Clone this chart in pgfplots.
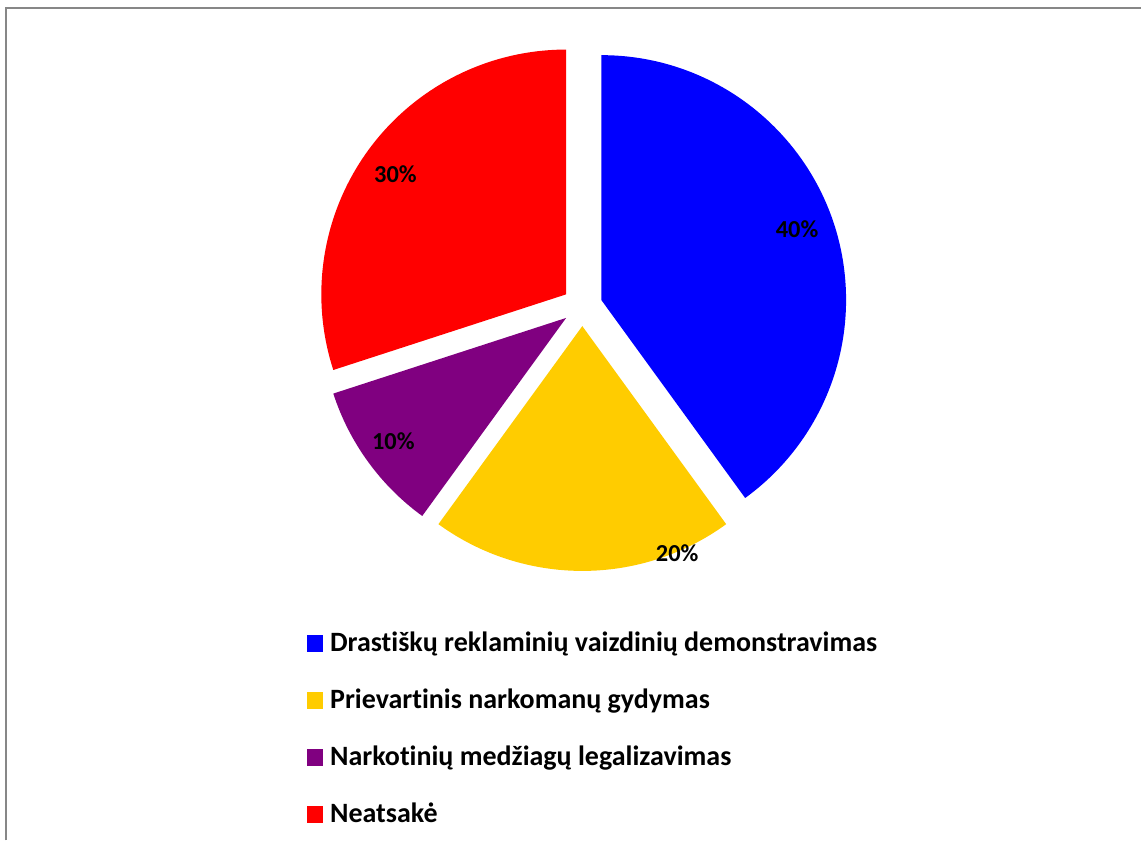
\documentclass[border=0pt]{standalone}
\usepackage{pgfplots}
\pgfplotsset{compat=1.18}
\usepackage{fontspec}
\setmainfont{Carlito}[Ligatures={NoCommon}]

\definecolor{pblue}{HTML}{0000FF}
\definecolor{pyellow}{HTML}{FFCC00}
\definecolor{ppurple}{HTML}{800080}
\definecolor{pred}{HTML}{FF0000}
\definecolor{frame}{HTML}{878787}

% shares in percent, clockwise from 12 o'clock
\def\vA{40}\def\vB{20}\def\vC{10}\def\vD{30}
\def\R{122.5pt}

\begin{document}
\begin{tikzpicture}
\pgfmathsetmacro\aA{90}
\pgfmathsetmacro\aB{\aA-3.6*\vA}
\pgfmathsetmacro\aC{\aB-3.6*\vB}
\pgfmathsetmacro\aD{\aC-3.6*\vC}
\pgfmathsetmacro\aE{\aD-3.6*\vD}
\begin{axis}[
  xmin=0, xmax=1142, ymin=0, ymax=841,
  y dir=reverse,
  width=571pt, height=420.5pt,
  scale only axis,
  hide axis,
  clip=false,
]
\path (axis cs:0,0) rectangle (axis cs:1142,841);
\draw[frame, line width=1pt] (axis cs:6.5,841) -- (axis cs:6.5,8.5) -- (axis cs:1142,8.5);

% exploded slices
\fill[pblue]   (axis cs:601.8,300.2) -- ++(\aA:\R) arc[start angle=\aA, end angle=\aB, radius=\R] -- cycle;
\fill[pyellow] (axis cs:582.8,326.4) -- ++(\aB:\R) arc[start angle=\aB, end angle=\aC, radius=\R] -- cycle;
\fill[ppurple] (axis cs:566.6,318.2) -- ++(\aC:\R) arc[start angle=\aC, end angle=\aD, radius=\R] -- cycle;
\fill[pred]    (axis cs:566.6,294.6) -- ++(\aD:\R) arc[start angle=\aD, end angle=\aE, radius=\R] -- cycle;

% value labels
\begin{scope}[every node/.style={inner sep=0pt, font=\fontsize{12.2pt}{14pt}\selectfont\bfseries}]
\node at (axis cs:797.8,229.5) {\vA\%};
\node at (axis cs:677.8,553.7) {\vB\%};
\node at (axis cs:393.7,441.7) {\vC\%};
\node at (axis cs:395.8,174.5) {\vD\%};
\end{scope}

% legend
\begin{scope}[every node/.style={inner sep=0pt, anchor=base west, font=\fontsize{14pt}{16pt}\selectfont\bfseries}]
\fill[pblue]   (axis cs:307.3,636) rectangle (axis cs:323.3,652.3);
\node at (axis cs:330,652.3) {Drastiškų reklaminių vaizdinių demonstravimas};
\fill[pyellow] (axis cs:307.3,693) rectangle (axis cs:323.3,709.3);
\node at (axis cs:330,709.3) {Prievartinis narkomanų gydymas};
\fill[ppurple] (axis cs:307.3,750) rectangle (axis cs:323.3,766.3);
\node at (axis cs:330,766.3) {Narkotinių medžiagų legalizavimas};
\fill[pred]    (axis cs:307.3,807) rectangle (axis cs:323.3,823.3);
\node at (axis cs:330,823.3) {Neatsakė};
\end{scope}
\end{axis}
\end{tikzpicture}
\end{document}
